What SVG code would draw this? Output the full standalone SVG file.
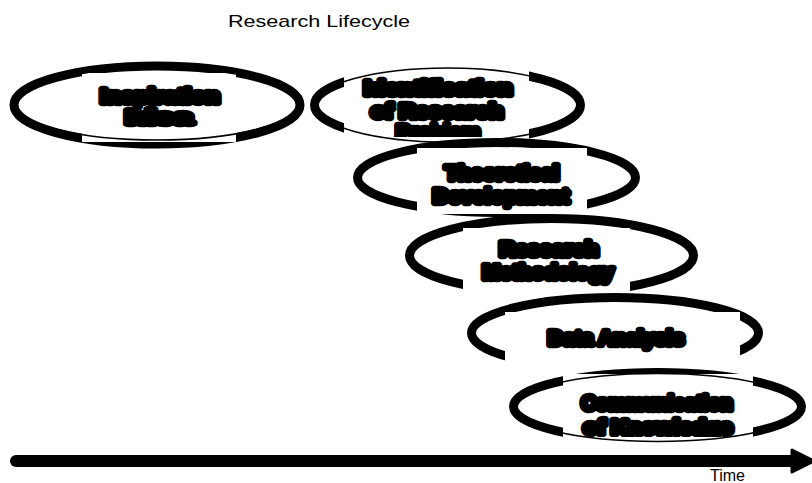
<svg xmlns="http://www.w3.org/2000/svg" width="812" height="483" viewBox="0 0 812 483">
<style>
.el{fill:none;stroke:#000;stroke-width:9}
.thin{fill:none;stroke:#000;stroke-width:1.5}
.box{fill:#fff}
.lbl{font-family:"Liberation Sans",Arial,sans-serif;font-weight:bold;font-size:20px;fill:#000;stroke:#000;stroke-width:6.5;stroke-linejoin:round;text-anchor:middle}
.plain{font-family:"Liberation Sans",Arial,sans-serif;fill:#000}
</style>
<defs>
<marker id="ah" viewBox="0 0 24 26" refX="6" refY="13" markerWidth="24" markerHeight="26" orient="auto" markerUnits="userSpaceOnUse">
<path d="M3 2 L22 11.5 L22 14.5 L3 24 Z" fill="#000" stroke="#000" stroke-width="3" stroke-linejoin="round"/>
</marker>
<clipPath id="c2"><rect x="344" y="64" width="185" height="73"/></clipPath>
<clipPath id="c6"><rect x="563" y="374" width="190" height="63"/></clipPath>
</defs>
<rect width="812" height="483" fill="#fff"/>
<text class="plain" x="228" y="27" font-size="17" textLength="182" lengthAdjust="spacingAndGlyphs">Research Lifecycle</text>

<g id="node1">
<ellipse class="el" cx="157" cy="105" rx="143" ry="39"/>
<rect class="box" x="82" y="73" width="154" height="69"/>
<ellipse class="thin" cx="157" cy="104" rx="141" ry="36"/>
<text class="lbl" x="160" y="103" textLength="119" lengthAdjust="spacingAndGlyphs">Inspiration</text>
<text class="lbl" x="159" y="124" textLength="66" lengthAdjust="spacingAndGlyphs">Idea</text>
</g>

<g id="node2">
<ellipse class="el" cx="447.5" cy="105" rx="133" ry="36.5"/>
<rect class="box" x="344" y="64" width="185" height="83"/>
<ellipse class="thin" cx="447.5" cy="105" rx="133" ry="37"/>
<g clip-path="url(#c2)">
<text class="lbl" x="438" y="95" textLength="148" lengthAdjust="spacingAndGlyphs">Identification</text>
<text class="lbl" x="437" y="118" textLength="132" lengthAdjust="spacingAndGlyphs">of Research</text>
<text class="lbl" x="438" y="139" textLength="84" lengthAdjust="spacingAndGlyphs">Problem</text>
</g>
</g>

<g id="node3">
<ellipse class="el" cx="496.5" cy="177.5" rx="139" ry="35"/>
<rect class="box" x="417" y="148" width="170" height="66"/>
<text class="lbl" x="502" y="180" textLength="114" lengthAdjust="spacingAndGlyphs">Theoretical</text>
<text class="lbl" x="501" y="203" textLength="136" lengthAdjust="spacingAndGlyphs">Development</text>
</g>

<g id="node4">
<ellipse class="el" cx="551.5" cy="255.5" rx="142" ry="37"/>
<rect class="box" x="463" y="228" width="167" height="72"/>
<text class="lbl" x="549" y="256" textLength="99" lengthAdjust="spacingAndGlyphs">Research</text>
<text class="lbl" x="548" y="279" textLength="131" lengthAdjust="spacingAndGlyphs">Methodology</text>
</g>

<g id="node5">
<ellipse class="el" cx="615" cy="333" rx="143.5" ry="35.5"/>
<rect class="box" x="505" y="312" width="235" height="66"/>
<text class="lbl" x="616" y="345" textLength="136" lengthAdjust="spacingAndGlyphs">Data Analysis</text>
</g>

<g id="node6">
<ellipse class="el" cx="657.5" cy="406.5" rx="144" ry="34"/>
<rect class="box" x="563" y="374" width="190" height="73"/>
<ellipse class="thin" cx="657.5" cy="407.5" rx="144" ry="34"/>
<g clip-path="url(#c6)">
<text class="lbl" x="657" y="410" textLength="151" lengthAdjust="spacingAndGlyphs">Communication</text>
<text class="lbl" x="658" y="434" textLength="149" lengthAdjust="spacingAndGlyphs">of Knowledge</text>
</g>
</g>

<g id="connectors">
<line x1="16" y1="461" x2="795" y2="461" stroke="#000" stroke-width="12" stroke-linecap="round" marker-end="url(#ah)"/>
</g>
<text class="plain" x="710" y="481" font-size="16">Time</text>
</svg>
